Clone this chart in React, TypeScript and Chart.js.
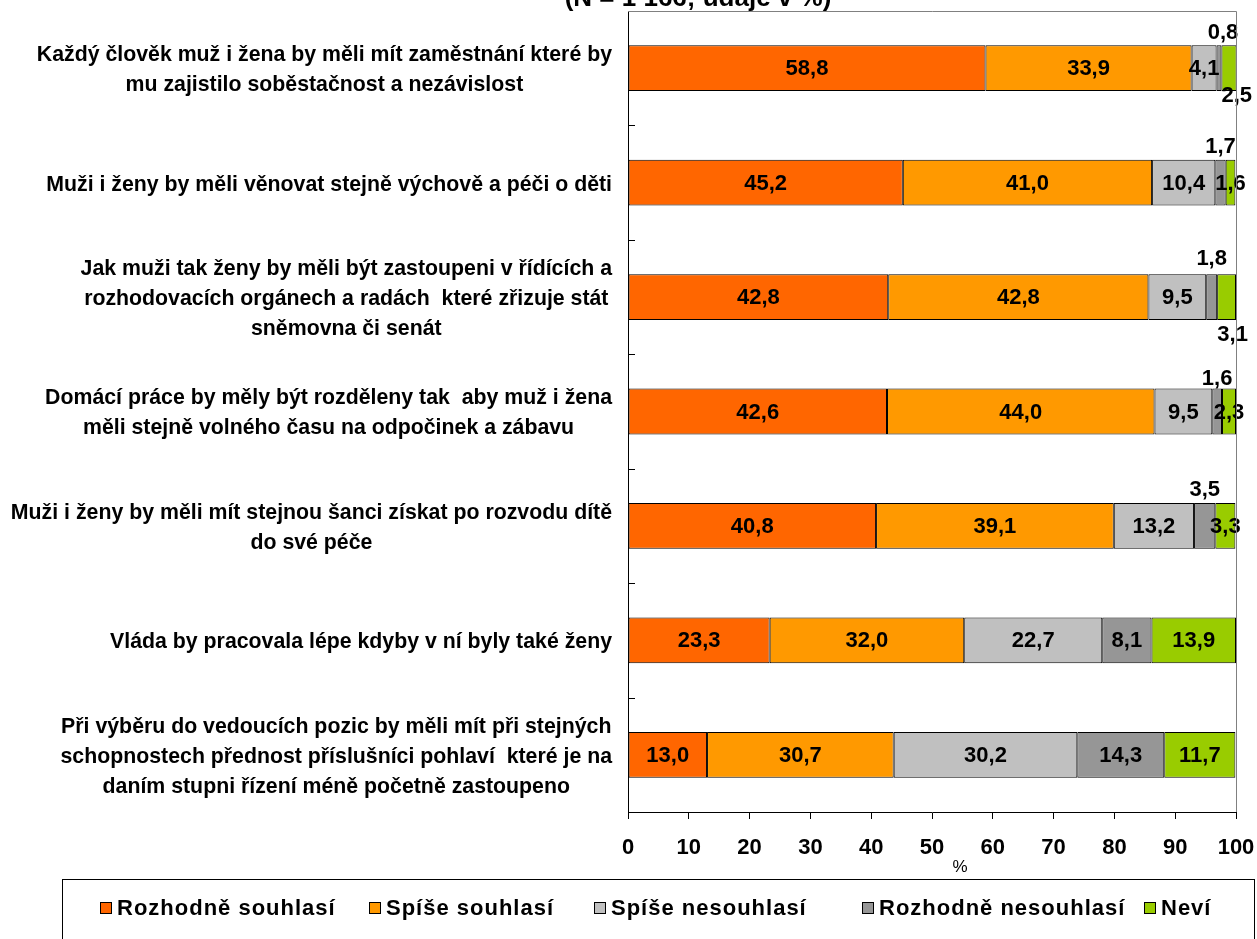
import React, { useEffect, useRef } from 'react';
import { Chart, registerables } from 'chart.js';

Chart.register(...registerables);

const titleText = '(N = 1 166; údaje v %)';
const axisTitle = '%';

const categories: string[][] = [
  ['Každý člověk muž i žena by měli mít zaměstnání které by', 'mu zajistilo soběstačnost a nezávislost'],
  ['Muži i ženy by měli věnovat stejně výchově a péči o děti'],
  ['Jak muži tak ženy by měli být zastoupeni v řídících a', 'rozhodovacích orgánech a radách  které zřizuje stát', 'sněmovna či senát'],
  ['Domácí práce by měly být rozděleny tak  aby muž i žena', 'měli stejně volného času na odpočinek a zábavu'],
  ['Muži i ženy by měli mít stejnou šanci získat po rozvodu dítě', 'do své péče'],
  ['Vláda by pracovala lépe kdyby v ní byly také ženy'],
  ['Při výběru do vedoucích pozic by měli mít při stejných', 'schopnostech přednost příslušníci pohlaví  které je na', 'daním stupni řízení méně početně zastoupeno'],
];

const seriesNames = ['Rozhodně souhlasí', 'Spíše souhlasí', 'Spíše nesouhlasí', 'Rozhodně nesouhlasí', 'Neví'];

const rozhodneSouhlasi = [58.8, 45.2, 42.8, 42.6, 40.8, 23.3, 13.0];
const spiseSouhlasi = [33.9, 41.0, 42.8, 44.0, 39.1, 32.0, 30.7];
const spiseNesouhlasi = [4.1, 10.4, 9.5, 9.5, 13.2, 22.7, 30.2];
const rozhodneNesouhlasi = [0.8, 1.7, 1.8, 1.6, 3.5, 8.1, 14.3];
const nevi = [2.5, 1.6, 3.1, 2.3, 3.3, 13.9, 11.7];

const seriesValues = [rozhodneSouhlasi, spiseSouhlasi, spiseNesouhlasi, rozhodneNesouhlasi, nevi];
const colors = ['#FF6600', '#FF9900', '#C0C0C0', '#969696', '#99CC00'];

const xMin = 0;
const xMax = 100;
const xStep = 10;

const FONT = '"Liberation Sans", Arial, sans-serif';

// legend item left edges (layout)
const legendItemX = [100, 369, 594, 862, 1144];

// label placement overrides (dataset-index -> placement) for tiny segments
const labelPlacement: Record<string, { pos: 'above' | 'below'; gap: number; dx: number }> = {
  '3-0': { pos: 'above', gap: 13, dx: 4 },
  '4-0': { pos: 'below', gap: 4, dx: 8 },
  '3-1': { pos: 'above', gap: 14, dx: 0 },
  '3-2': { pos: 'above', gap: 16, dx: 0 },
  '4-2': { pos: 'below', gap: 14, dx: 6 },
  '3-3': { pos: 'above', gap: 11, dx: 0 },
  '3-4': { pos: 'above', gap: 14, dx: 0 },
};

const decorPlugin = {
  id: 'decor',
  afterDatasetsDraw(chart: any) {
    const ctx = chart.ctx as CanvasRenderingContext2D;
    const area = chart.chartArea;
    ctx.save();
    ctx.font = `bold 22px ${FONT}`;
    ctx.fillStyle = '#000';
    ctx.textAlign = 'center';
    ctx.textBaseline = 'middle';
    chart.data.datasets.forEach((ds: any, di: number) => {
      const meta = chart.getDatasetMeta(di);
      meta.data.forEach((el: any, i: number) => {
        const v = ds.data[i];
        const txt = v.toFixed(1).replace('.', ',');
        const right = Math.min(el.x, area.right);
        let cx = (right + el.base) / 2;
        let cy = el.y;
        const p = labelPlacement[`${di}-${i}`];
        if (p) {
          cx += p.dx;
          if (p.pos === 'above') cy = el.y - el.height / 2 - p.gap;
          else cy = el.y + el.height / 2 + p.gap;
        }
        ctx.fillText(txt, cx, cy + 1);
      });
    });
    ctx.restore();
  },
  afterDraw(chart: any) {
    const ctx = chart.ctx as CanvasRenderingContext2D;
    const area = chart.chartArea;
    ctx.save();
    // gray top/right border
    ctx.strokeStyle = '#808080';
    ctx.lineWidth = 1;
    ctx.beginPath();
    ctx.moveTo(area.left, area.top + 0.5);
    ctx.lineTo(area.right + 0.5, area.top + 0.5);
    ctx.lineTo(area.right + 0.5, area.bottom);
    ctx.stroke();
    // category boundary ticks (inside)
    const n = chart.data.labels.length;
    const h = (area.bottom - area.top) / n;
    ctx.strokeStyle = '#000';
    ctx.beginPath();
    for (let i = 1; i < n; i++) {
      const y = Math.round(area.top + i * h) + 0.5;
      ctx.moveTo(area.left, y);
      ctx.lineTo(area.left + 7, y);
    }
    ctx.stroke();
    // category labels: each block right-aligned, lines centred in block
    const yScale = chart.scales.y;
    ctx.fillStyle = '#000';
    ctx.font = `bold 21.3px ${FONT}`;
    ctx.textAlign = 'center';
    ctx.textBaseline = 'middle';
    const lineH = 30;
    const labelRight = area.left - 16;
    (chart.data.labels as string[][]).forEach((lines, i) => {
      const cy = yScale.getPixelForValue(i);
      const w = Math.max(...lines.map((l) => ctx.measureText(l).width));
      const cx = labelRight - w / 2;
      const y0 = cy - ((lines.length - 1) * lineH) / 2;
      lines.forEach((l, k) => ctx.fillText(l, cx, y0 + k * lineH + 2));
    });
    // title (clipped at top)
    ctx.font = `bold 26px ${FONT}`;
    ctx.textBaseline = 'alphabetic';
    ctx.fillText(titleText, 698, 6);
    // axis title
    ctx.font = `17px ${FONT}`;
    ctx.textBaseline = 'middle';
    ctx.fillText(axisTitle, 960, 867);
    // legend box
    ctx.strokeStyle = '#000';
    ctx.strokeRect(62.5, 879.5, 1192, 90);
    ctx.font = `bold 22px ${FONT}`;
    (ctx as any).letterSpacing = '1px';
    ctx.textAlign = 'left';
    chart.data.datasets.forEach((ds: any, i: number) => {
      const x = legendItemX[i];
      ctx.fillStyle = ds.backgroundColor;
      ctx.fillRect(x, 902, 12, 12);
      ctx.strokeStyle = '#000';
      ctx.strokeRect(x + 0.5, 902.5, 11, 11);
      ctx.fillStyle = '#000';
      ctx.fillText(ds.label, x + 17, 909);
    });
    ctx.restore();
  },
};

export default function App() {
  const ref = useRef<HTMLCanvasElement>(null);
  useEffect(() => {
    const canvas = ref.current!;
    const chart = new Chart(canvas, {
      type: 'bar',
      data: {
        labels: categories as any,
        datasets: seriesNames.map((name, i) => ({
          label: name,
          data: seriesValues[i],
          backgroundColor: colors[i],
          borderColor: '#000',
          borderWidth: 1,
          borderSkipped: false,
          barPercentage: 0.4,
          categoryPercentage: 1,
        })),
      },
      options: {
        indexAxis: 'y',
        responsive: true,
        maintainAspectRatio: false,
        animation: false,
        layout: { padding: { top: 11, right: 21, left: 0, bottom: 0 } },
        plugins: {
          legend: { display: false },
          title: { display: false },
          tooltip: { enabled: false },
        },
        scales: {
          x: {
            stacked: true,
            min: xMin,
            max: xMax,
            ticks: {
              stepSize: xStep,
              color: '#000',
              font: { family: FONT, size: 22, weight: 'bold' },
              padding: 16,
              maxRotation: 0,
              autoSkip: false,
            },
            grid: { drawOnChartArea: false, color: '#000', tickLength: 7 },
            border: { color: '#000' },
            afterFit: (s: any) => {
              s.height = 127;
              s.paddingLeft = 0;
              s.paddingRight = 0;
            },
          },
          y: {
            stacked: true,
            ticks: { display: false },
            grid: { display: false },
            border: { color: '#000', display: true },
            afterFit: (s: any) => {
              s.width = 628;
              s.paddingTop = 0;
              s.paddingBottom = 0;
            },
          },
        },
      } as any,
      plugins: [decorPlugin],
    });
    return () => chart.destroy();
  }, []);
  return (
    <div style={{ position: 'absolute', left: 0, top: 0, width: 1257, height: 939 }}>
      <canvas ref={ref} />
    </div>
  );
}
